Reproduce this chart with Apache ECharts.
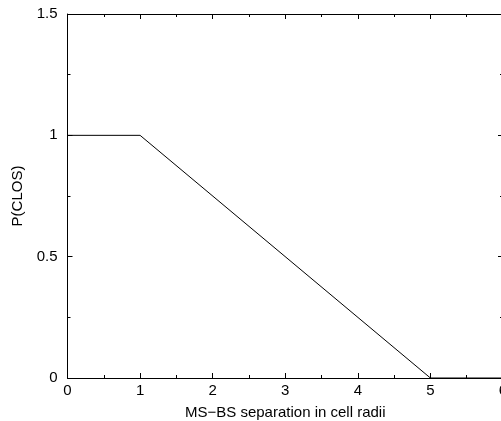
<!DOCTYPE html>
<html><head><meta charset="utf-8">
<script src="https://cdn.jsdelivr.net/npm/echarts@6/dist/echarts.min.js"></script>
<style>html,body{margin:0;padding:0;background:#fff}#c{width:501px;height:421px}</style>
</head><body><div id="c"></div>
<script>
const xValues = [0, 1, 5, 6];
const yValues = [1, 1, 0, 0];
const xTicks = [0, 1, 2, 3, 4, 5, 6];
const yTicks = [0, 0.5, 1, 1.5];
const xName = 'MS\u2212BS separation in cell radii';
const yName = 'P(CLOS)';

const font = 'Liberation Sans, Arial, Helvetica, sans-serif';
const black = '#000';
function axisCommon() {
  return {
    axisLine: {show: true, onZero: false, lineStyle: {color: black, width: 1}},
    axisTick: {show: true, inside: true, length: 5, lineStyle: {color: black, width: 1}},
    minorTick: {show: true, splitNumber: 2, length: 3, lineStyle: {color: black, width: 1}},
    splitLine: {show: false}
  };
}
const chart = echarts.init(document.getElementById('c'), null, {renderer: 'canvas'});
chart.setOption({
  animation: false,
  backgroundColor: '#fff',
  grid: {left: 67.5, top: 14, width: 435.5, height: 364, containLabel: false, outerBoundsMode: 'none'},
  xAxis: [
    Object.assign(axisCommon(), {
      type: 'value', min: xTicks[0], max: xTicks[xTicks.length - 1], interval: 1,
      position: 'bottom',
      name: xName, nameLocation: 'middle', nameGap: 27,
      nameTextStyle: {color: black, fontFamily: font, fontSize: 15},
      axisLabel: {color: black, fontFamily: font, fontSize: 15, margin: 5, showMaxLabel: true, showMinLabel: true}
    }),
    Object.assign(axisCommon(), {
      type: 'value', min: xTicks[0], max: xTicks[xTicks.length - 1], interval: 1,
      position: 'top', axisLabel: {show: false}
    })
  ],
  yAxis: [
    Object.assign(axisCommon(), {
      type: 'value', min: yTicks[0], max: yTicks[yTicks.length - 1], interval: 0.5,
      position: 'left',
      name: yName, nameLocation: 'middle', nameGap: 40,
      nameTextStyle: {color: black, fontFamily: font, fontSize: 15},
      axisLabel: {color: black, fontFamily: font, fontSize: 15, margin: 10, showMaxLabel: true, showMinLabel: true}
    }),
    Object.assign(axisCommon(), {
      type: 'value', min: yTicks[0], max: yTicks[yTicks.length - 1], interval: 0.5,
      position: 'right', axisLabel: {show: false}
    })
  ],
  series: [{
    type: 'line',
    data: xValues.map((x, i) => [x, yValues[i]]),
    symbol: 'none',
    lineStyle: {color: black, width: 1},
    xAxisIndex: 0, yAxisIndex: 0
  }]
});
</script></body></html>
